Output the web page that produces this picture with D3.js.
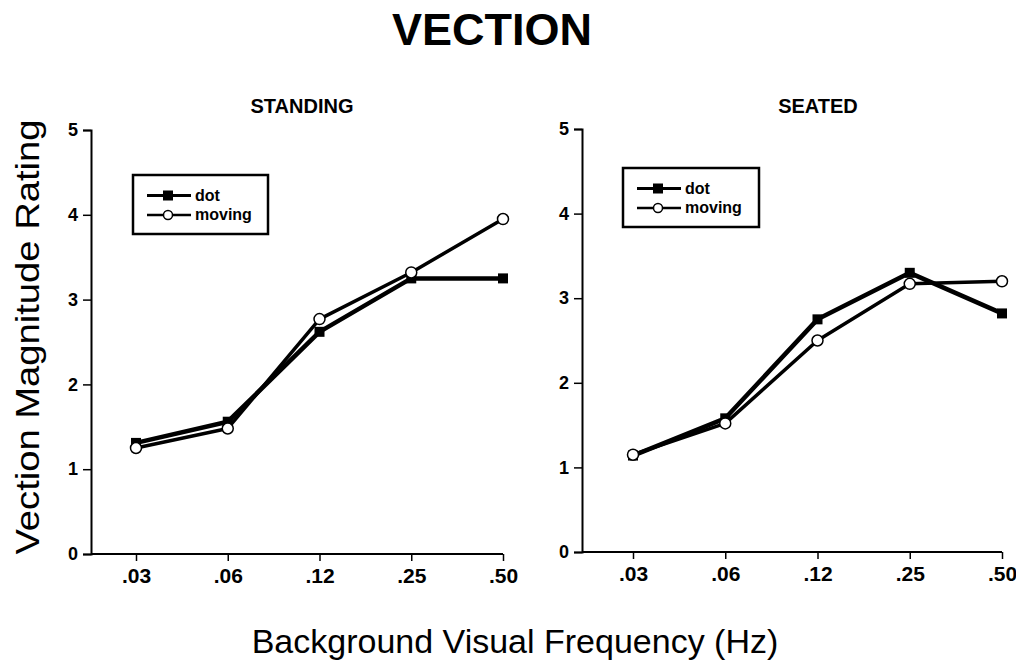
<!DOCTYPE html>
<html>
<head>
<meta charset="utf-8">
<script src="https://cdn.jsdelivr.net/npm/d3@7"></script>
<style>
  body { margin: 0; background: #fff; }
  svg { display: block; font-family: "Liberation Sans", Arial, Helvetica, sans-serif; }
</style>
</head>
<body>
<script>
// values
var frequencies = ['.03', '.06', '.12', '.25', '.50'];
var yTicks = [0, 1, 2, 3, 4, 5];
var seriesNames = ['dot', 'moving'];

var standingDot = [1.31, 1.56, 2.62, 3.25, 3.25];
var standingMoving = [1.25, 1.48, 2.77, 3.32, 3.95];
var seatedDot = [1.14, 1.58, 2.75, 3.30, 2.82];
var seatedMoving = [1.15, 1.52, 2.50, 3.17, 3.20];

var width = 1016, height = 661;

var svg = d3.select('body').append('svg')
  .attr('width', width)
  .attr('height', height);

// big title and shared axis titles
svg.append('text')
  .attr('x', 492).attr('y', 45)
  .attr('text-anchor', 'middle')
  .style('font-size', '45px').style('font-weight', 'bold')
  .text('VECTION');

svg.append('text')
  .attr('transform', 'translate(39,337) rotate(-90)')
  .attr('text-anchor', 'middle')
  .attr('textLength', 435).attr('lengthAdjust', 'spacingAndGlyphs')
  .style('font-size', '34px')
  .text('Vection Magnitude Rating');

svg.append('text')
  .attr('x', 515).attr('y', 653)
  .attr('text-anchor', 'middle')
  .style('font-size', '34px')
  .text('Background Visual Frequency (Hz)');

var panels = [
  { title: 'STANDING', titleX: 302, dot: standingDot, moving: standingMoving,
    left: 91, first: 136, right: 503, bottom: 554, top: 130,
    legend: { x: 133, y: 175, w: 135, h: 59 } },
  { title: 'SEATED', titleX: 818, dot: seatedDot, moving: seatedMoving,
    left: 582, first: 633, right: 1002, bottom: 552, top: 129,
    legend: { x: 623, y: 168, w: 136, h: 59 } }
];

panels.forEach(function(p) {
  var x = d3.scalePoint().domain(frequencies).range([p.first, p.right]);
  var y = d3.scaleLinear().domain([0, 5]).range([p.bottom, p.top]);

  var g = svg.append('g');

  g.append('text')
    .attr('x', p.titleX).attr('y', 113)
    .attr('text-anchor', 'middle')
    .style('font-size', '20px').style('font-weight', 'bold')
    .text(p.title);

  // y axis
  var yAxis = g.append('g')
    .attr('transform', 'translate(' + p.left + ',0)')
    .call(d3.axisLeft(y).tickValues(yTicks).tickFormat(d3.format('d')).tickSize(8).tickPadding(5));

  // x axis, the line starts at the y axis and stops at the last tick
  var xAxis = g.append('g')
    .attr('transform', 'translate(0,' + p.bottom + ')')
    .call(d3.axisBottom(x).tickSize(7).tickPadding(7));
  xAxis.select('.domain').attr('d', 'M' + p.left + ',0H' + p.right);

  [yAxis, xAxis].forEach(function(a) {
    a.attr('font-family', '"Liberation Sans", Arial, sans-serif').attr('font-weight', 'bold');
    a.select('.domain').attr('stroke', '#000').attr('stroke-width', 2);
    a.selectAll('.tick line').attr('stroke', '#000').attr('stroke-width', 1.5);
    a.selectAll('.tick text').attr('fill', '#000');
  });
  yAxis.attr('font-size', 18);
  xAxis.attr('font-size', 21);

  var line = d3.line()
    .x(function(d, i) { return x(frequencies[i]); })
    .y(function(d) { return y(d); });

  g.append('path').datum(p.dot)
    .attr('d', line).attr('fill', 'none')
    .attr('stroke', '#000').attr('stroke-width', 4.5).attr('stroke-linejoin', 'round');

  g.append('path').datum(p.moving)
    .attr('d', line).attr('fill', 'none')
    .attr('stroke', '#000').attr('stroke-width', 3.5).attr('stroke-linejoin', 'round');

  g.selectAll('rect.dot').data(p.dot).enter().append('rect')
    .attr('class', 'dot')
    .attr('x', function(d, i) { return x(frequencies[i]) - 5; })
    .attr('y', function(d) { return y(d) - 5; })
    .attr('width', 10).attr('height', 10)
    .attr('fill', '#000');

  g.selectAll('circle.moving').data(p.moving).enter().append('circle')
    .attr('class', 'moving')
    .attr('cx', function(d, i) { return x(frequencies[i]); })
    .attr('cy', function(d) { return y(d); })
    .attr('r', 5.5)
    .attr('fill', '#fff').attr('stroke', '#000').attr('stroke-width', 1.5);

  // legend box
  var L = p.legend;
  var lg = g.append('g').attr('transform', 'translate(' + L.x + ',' + L.y + ')');
  lg.append('rect')
    .attr('width', L.w).attr('height', L.h)
    .attr('fill', '#fff').attr('stroke', '#000').attr('stroke-width', 2.5);

  seriesNames.forEach(function(name, i) {
    var ry = 20.5 + i * 19.5;
    lg.append('line')
      .attr('x1', 14).attr('x2', 58).attr('y1', ry).attr('y2', ry)
      .attr('stroke', '#000').attr('stroke-width', name === 'dot' ? 3 : 2.5);
    if (name === 'dot') {
      lg.append('rect').attr('x', 30).attr('y', ry - 5).attr('width', 10).attr('height', 10).attr('fill', '#000');
    } else {
      lg.append('circle').attr('cx', 35).attr('cy', ry).attr('r', 4.5)
        .attr('fill', '#fff').attr('stroke', '#000').attr('stroke-width', 1.5);
    }
    lg.append('text')
      .attr('x', 62).attr('y', ry + 5)
      .style('font-size', '16px').style('font-weight', 'bold')
      .text(name);
  });
});
</script>
</body>
</html>
